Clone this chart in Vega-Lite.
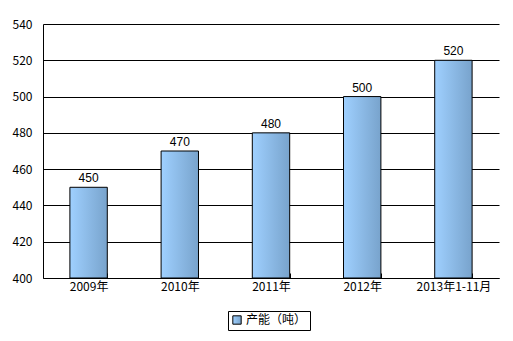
{
  "$schema": "https://vega.github.io/schema/vega-lite/v6.json",
  "width": 456,
  "height": 254,
  "autosize": "none",
  "padding": {"left": 43, "top": 24, "right": 14, "bottom": 63},
  "background": "white",
  "data": {"values": [
    {"year": "2009年", "value": 450, "series": "产能（吨）"},
    {"year": "2010年", "value": 470, "series": "产能（吨）"},
    {"year": "2011年", "value": 480, "series": "产能（吨）"},
    {"year": "2012年", "value": 500, "series": "产能（吨）"},
    {"year": "2013年1-11月", "value": 520, "series": "产能（吨）"}
  ]},
  "config": {
    "view": {"stroke": null},
    "font": "Noto Sans CJK SC",
    "axis": {"labelFont": "Noto Sans CJK SC", "labelFontSize": 12, "labelColor": "black"}
  },
  "encoding": {
    "x": {
      "field": "year", "type": "nominal", "sort": null,
      "scale": {"paddingInner": 0.59, "paddingOuter": 0.295},
      "axis": {"title": null, "labelAngle": 0, "domainColor": "black", "tickColor": "black", "tickSize": -5, "tickBand": "extent", "labelPadding": 8, "grid": false}
    },
    "y": {
      "field": "value", "type": "quantitative",
      "scale": {"domain": [400, 540], "zero": false, "nice": false},
      "axis": {"title": null, "values": [400, 420, 440, 460, 480, 500, 520, 540], "grid": true, "gridColor": "black", "gridOpacity": 1, "domainColor": "black", "ticks": false, "labelPadding": 11}
    }
  },
  "layer": [
    {
      "mark": {"type": "bar", "strokeWidth": 1, "fill": {"gradient": "linear", "x1": 0, "y1": 0, "x2": 1, "y2": 0, "stops": [{"offset": 0, "color": "#9fd0ff"}, {"offset": 1, "color": "#78a3cc"}]}},
      "encoding": {
        "y2": {"datum": 400},
        "stroke": {
          "field": "series", "type": "nominal",
          "scale": {"range": ["black"]},
          "legend": {
            "title": null, "orient": "none", "legendX": 185, "legendY": 287,
            "direction": "horizontal", "strokeColor": "black", "padding": 3,
            "symbolType": "square", "symbolSize": 70, "symbolStrokeColor": "black", "symbolStrokeWidth": 1, "symbolFillColor": "#8cbbea",
            "labelFontSize": 12, "labelColor": "black", "labelFont": "Noto Sans CJK SC", "symbolOffset": 0, "labelOffset": 3
          }
        }
      }
    },
    {
      "mark": {"type": "text", "dy": -9, "fontSize": 12, "color": "black", "font": "Liberation Sans"},
      "encoding": {"text": {"field": "value", "type": "quantitative"}}
    }
  ]
}
